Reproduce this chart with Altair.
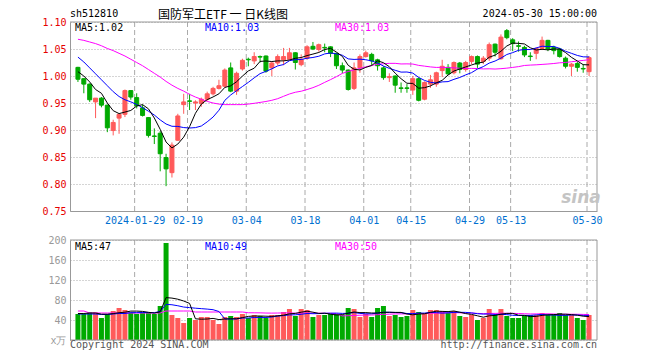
import altair as alt
import pandas as pd
import numpy as np

# ---------------- data ----------------
dates = ["2024-01-15","2024-01-16","2024-01-17","2024-01-18","2024-01-19","2024-01-22","2024-01-23","2024-01-24","2024-01-25","2024-01-26",
         "2024-01-29","2024-01-30","2024-01-31","2024-02-01","2024-02-02","2024-02-05","2024-02-06","2024-02-07","2024-02-08","2024-02-19",
         "2024-02-20","2024-02-21","2024-02-22","2024-02-23","2024-02-26","2024-02-27","2024-02-28","2024-02-29","2024-03-01","2024-03-04",
         "2024-03-05","2024-03-06","2024-03-07","2024-03-08","2024-03-11","2024-03-12","2024-03-13","2024-03-14","2024-03-15","2024-03-18",
         "2024-03-19","2024-03-20","2024-03-21","2024-03-22","2024-03-25","2024-03-26","2024-03-27","2024-03-28","2024-03-29","2024-04-01",
         "2024-04-02","2024-04-03","2024-04-08","2024-04-09","2024-04-10","2024-04-11","2024-04-12","2024-04-15","2024-04-16","2024-04-17",
         "2024-04-18","2024-04-19","2024-04-22","2024-04-23","2024-04-24","2024-04-25","2024-04-26","2024-04-29","2024-04-30","2024-05-06",
         "2024-05-07","2024-05-08","2024-05-09","2024-05-10","2024-05-13","2024-05-14","2024-05-15","2024-05-16","2024-05-17","2024-05-20",
         "2024-05-21","2024-05-22","2024-05-23","2024-05-24","2024-05-27","2024-05-28","2024-05-29","2024-05-30"]

opens = [1.016,0.995,0.985,0.952,0.959,0.946,0.899,0.922,0.929,0.973,
         0.960,0.941,0.923,0.889,0.894,0.849,0.821,0.881,0.947,0.954,
         0.950,0.949,0.957,0.967,0.977,0.981,1.015,0.972,1.013,1.031,
         1.028,1.036,1.037,1.015,1.024,1.030,1.031,1.043,1.021,1.033,
         1.055,1.049,1.053,1.054,1.042,1.019,1.011,0.977,1.015,1.036,
         1.040,1.030,1.015,0.997,1.000,0.978,0.978,0.974,0.995,0.957,
         0.985,0.985,1.010,1.016,1.006,1.024,1.012,1.027,1.036,1.027,
         1.033,1.059,1.032,1.084,1.067,1.056,1.053,1.037,1.042,1.051,
         1.066,1.053,1.050,1.033,1.018,1.023,1.014,1.008]
highs = [1.017,0.996,0.986,0.959,0.961,0.947,0.919,0.930,0.975,0.974,
         0.968,0.947,0.924,0.903,0.898,0.856,0.877,0.930,0.967,0.967,
         0.955,0.960,0.971,0.980,0.993,1.014,1.025,1.008,1.032,1.034,
         1.044,1.038,1.038,1.026,1.040,1.052,1.052,1.044,1.040,1.057,
         1.063,1.060,1.060,1.055,1.043,1.025,1.012,1.025,1.040,1.047,
         1.043,1.032,1.018,1.005,1.001,0.988,0.985,1.000,0.997,0.990,
         1.002,1.008,1.030,1.022,1.027,1.026,1.028,1.038,1.038,1.037,
         1.062,1.060,1.077,1.087,1.070,1.064,1.056,1.044,1.053,1.073,
         1.067,1.056,1.052,1.036,1.024,1.026,1.022,1.037]
lows = [0.989,0.968,0.952,0.922,0.942,0.896,0.890,0.893,0.924,0.956,
        0.940,0.925,0.886,0.874,0.8235,0.796,0.812,0.880,0.930,0.937,
        0.937,0.943,0.954,0.964,0.975,0.978,0.970,0.965,1.010,1.018,
        1.022,1.025,1.006,1.000,1.020,1.020,1.030,1.012,1.018,1.030,
        1.048,1.045,1.044,1.035,1.013,1.005,0.973,0.974,1.006,1.034,
        1.020,1.010,0.993,0.989,0.969,0.969,0.969,0.965,0.953,0.955,
        0.978,0.980,0.998,1.002,1.003,1.005,1.008,1.022,1.015,1.022,
        1.028,1.036,1.030,1.068,1.046,1.045,1.035,1.028,1.031,1.048,
        1.046,1.040,1.034,1.014,1.000,1.008,1.006,1.000]
closes = [0.994,0.985,0.956,0.959,0.946,0.904,0.914,0.929,0.973,0.961,
          0.945,0.927,0.890,0.888,0.856,0.828,0.872,0.926,0.952,0.953,
          0.952,0.957,0.967,0.977,0.982,1.011,0.972,1.005,1.029,1.030,
          1.036,1.035,1.009,1.024,1.036,1.036,1.043,1.025,1.031,1.054,
          1.050,1.058,1.052,1.042,1.019,1.011,0.975,1.015,1.036,1.043,
          1.028,1.019,0.997,0.999,0.983,0.977,0.977,0.995,0.955,0.988,
          0.993,1.006,1.018,1.004,1.025,1.012,1.025,1.036,1.022,1.033,
          1.058,1.044,1.072,1.071,1.060,1.055,1.039,1.036,1.051,1.066,
          1.050,1.047,1.036,1.018,1.022,1.016,1.013,1.034]
volumes = [52,52,55,55,44,52,58,64,60,55,
           52,55,55,52,68,194,50,44,34,44,
           40,46,46,40,32,46,48,46,52,44,
           50,48,44,50,50,56,62,48,62,60,
           46,50,50,52,52,50,64,62,46,52,
           46,64,68,48,50,46,48,60,56,52,
           60,60,58,54,58,48,46,50,40,44,
           62,50,62,48,44,44,48,50,50,54,
           50,50,54,50,50,44,40,50]

# moving-average values at the left edge (their windows start before the visible data)
ma5_head = [1.008, 1.000, 0.989, 0.975]
ma10_head = [1.035, 1.026, 1.015, 1.004, 0.993, 0.982, 0.971, 0.962, 0.956]
ma30_head = [1.068, 1.066, 1.063, 1.060, 1.056, 1.051, 1.047, 1.042, 1.037, 1.031,
             1.025, 1.019, 1.012, 1.005, 0.998, 0.990, 0.983, 0.977, 0.972, 0.966,
             0.961, 0.957, 0.953, 0.950, 0.948, 0.947, 0.947, 0.947, 0.947]
vma5_head = [53, 53, 54, 54]
vma10_head = [52, 52, 52, 52, 51, 51, 52, 53, 53]
vma30_head = [58, 58, 54, 54, 54, 54, 54, 54, 54, 54,
              54, 54, 54, 54, 54, 58, 58, 58, 58, 58,
              56, 56, 56, 56, 56, 56, 56, 56, 56]

tick_dates = ["2024-01-29", "2024-02-19", "2024-03-04", "2024-03-18", "2024-04-01",
              "2024-04-15", "2024-04-29", "2024-05-13", "2024-05-30"]
tick_labels = ["2024-01-29", "02-19", "03-04", "03-18", "04-01", "04-15", "04-29", "05-13", "05-30"]
price_ticks = [0.75, 0.80, 0.85, 0.90, 0.95, 1.00, 1.05, 1.10]
vol_ticks = [0, 40, 80, 120, 160, 200]

title_code = "sh512810"
title_main = "国防军工ETF 一 日K线图"
title_time = "2024-05-30 15:00:00"
price_ma_labels = ["MA5:1.02", "MA10:1.03", "MA30:1.03"]
vol_ma_labels = ["MA5:47", "MA10:49", "MA30:50"]
footer_left = "Copyright 2024 SINA.COM"
footer_right = "http://finance.sina.com.cn"

# ---------------- table ----------------
n = len(dates)
df = pd.DataFrame({"idx": list(range(n)), "date": dates, "open": opens, "high": highs,
                   "low": lows, "close": closes, "vol": volumes})
df["dir"] = np.where(df["close"] >= df["open"], "up", "down")


def with_head(series, window, head):
    m = series.rolling(window).mean()
    m.iloc[:len(head)] = head
    return m


df["ma5"] = with_head(df["close"], 5, ma5_head)
df["ma10"] = with_head(df["close"], 10, ma10_head)
df["ma30"] = with_head(df["close"], 30, ma30_head)
df["vma5"] = with_head(df["vol"].astype(float), 5, vma5_head)
df["vma10"] = with_head(df["vol"].astype(float), 10, vma10_head)
df["vma30"] = with_head(df["vol"].astype(float), 30, vma30_head)

tick_idx = [dates.index(d) for d in tick_dates]
tick_pos = [round(i - 0.35, 2) for i in tick_idx]
grid_df = pd.DataFrame({"idx": tick_pos})

# ---------------- layout ----------------
MONO = "DejaVu Sans Mono"
W, H = 527, 318
PH = 189          # bottom of the price panel
VT, VB = 218, 318  # top / bottom of the volume panel
RED, GREEN = "#ff5a5a", "#00aa00"
FRAME = "#999999"
GRID = "#aaaaaa"

label_expr = "[" + ",".join(f"'{t}'" for t in tick_labels) + "][indexof([" + \
    ",".join(str(i) for i in tick_idx) + "], round(datum.value + 0.35))]"

XS = alt.Scale(domain=[-0.5, n - 0.5], nice=False, zero=False)
XA = alt.Axis(values=tick_pos, labelExpr=label_expr, orient="bottom", offset=PH - H,
              grid=False, ticks=False, domainColor=FRAME, labelColor="#0070d0",
              labelFont=MONO, labelFontSize=10, labelPadding=4, labelFlush=False,
              labelOverlap=False, labelAngle=0)


def X():
    return alt.X("idx:Q", scale=XS, axis=XA, title=None)


PS = alt.Scale(domain=[0.75, 1.10], range=[PH, 0], nice=False, zero=False)
PA = alt.Axis(values=price_ticks, format=".2f", orient="left", grid=True, gridDash=[1, 2],
              gridColor=GRID, ticks=False, domainColor=FRAME, labelColor="#e60000",
              labelFont=MONO, labelFontSize=10, labelPadding=4, labelOverlap=False)


def PY(field):
    return alt.Y(f"{field}:Q", scale=PS, axis=PA, title=None)


VS = alt.Scale(domain=[0, 200], range=[VB, VT], nice=False)
VA = alt.Axis(values=vol_ticks, orient="left", grid=True, gridDash=[1, 2], gridColor=GRID,
              ticks=False, domainColor=FRAME, labelColor="#999999", labelFont=MONO,
              labelFontSize=10, labelPadding=4, labelOverlap=False,
              labelExpr="datum.value == 0 ? 'x万' : datum.label")


def VY(field):
    return alt.Y(f"{field}:Q", scale=VS, axis=VA, title=None)


CS = alt.Scale(domain=["up", "down"], range=[RED, GREEN])
color = alt.Color("dir:N", scale=CS, legend=None)
stroke = alt.Stroke("dir:N", scale=CS, legend=None)

base = alt.Chart(df)
one = pd.DataFrame({"a": [0]})


def frame(**enc):
    return alt.Chart(one).mark_rule(color=FRAME, strokeWidth=1).encode(**enc)


def label(text, x, y, col="black", size=10, align="left", font=MONO, **kw):
    return alt.Chart(pd.DataFrame({"t": [text]})).mark_text(
        align=align, baseline="alphabetic", font=font, fontSize=size, color=col, **kw
    ).encode(x=alt.value(x), y=alt.value(y), text="t:N")


price = alt.layer(
    alt.Chart(grid_df).mark_rule(color=GRID, strokeDash=[5, 3]).encode(
        x=X(), y=alt.value(0), y2=alt.value(PH)),
    base.mark_rule(strokeWidth=1).encode(x=X(), y=PY("low"), y2="high:Q", color=color),
    base.mark_bar(size=4, strokeWidth=1).encode(x=X(), y=PY("open"), y2="close:Q",
                                               color=color, stroke=stroke),
    base.mark_line(color="#ff00ff", strokeWidth=1).encode(x=X(), y=PY("ma30")),
    base.mark_line(color="#0000ff", strokeWidth=1).encode(x=X(), y=PY("ma10")),
    base.mark_line(color="black", strokeWidth=1).encode(x=X(), y=PY("ma5")),
)

volume = alt.layer(
    alt.Chart(grid_df).mark_rule(color=GRID, strokeDash=[5, 3]).encode(
        x=X(), y=alt.value(VT), y2=alt.value(VB)),
    base.mark_bar(size=5).encode(x=X(), y=VY("vol"), color=color),
    base.mark_line(color="#ff00ff", strokeWidth=1).encode(x=X(), y=VY("vma30")),
    base.mark_line(color="#0000ff", strokeWidth=1).encode(x=X(), y=VY("vma10")),
    base.mark_line(color="black", strokeWidth=1).encode(x=X(), y=VY("vma5")),
)

decor = [
    frame(x=alt.value(0), x2=alt.value(W), y=alt.value(0)),
    frame(x=alt.value(W), y=alt.value(0), y2=alt.value(PH)),
    frame(x=alt.value(0), x2=alt.value(W), y=alt.value(VT)),
    frame(x=alt.value(0), x2=alt.value(W), y=alt.value(VB)),
    frame(x=alt.value(W), y=alt.value(VT), y2=alt.value(VB)),
    label("sina", 511, 181, col="#c4c4c4", size=17, align="center", font="DejaVu Sans",
          fontStyle="italic", fontWeight="bold"),
    label(title_code, 0, -5),
    label(title_main, 153, -3.5, size=12, align="center", font="Noto Sans CJK SC"),
    label(title_time, W, -5, align="right"),
    label(price_ma_labels[0], 5, 8.5),
    label(price_ma_labels[1], 135, 8.5, col="#0000ff"),
    label(price_ma_labels[2], 265, 8.5, col="#ff00ff"),
    label(vol_ma_labels[0], 5, 228),
    label(vol_ma_labels[1], 135, 228, col="#0000ff"),
    label(vol_ma_labels[2], 265, 228, col="#ff00ff"),
    label(footer_left, 0, 326, col="#555555"),
    label(footer_right, W, 326, col="#555555", align="right"),
]

chart = alt.layer(price, volume, *decor).resolve_scale(y="independent").properties(
    width=W, height=H,
    autosize=alt.AutoSizeParams(type="none"),
    padding={"left": 62, "top": 14, "right": 50, "bottom": 12},
    background="white",
).configure_view(strokeWidth=0)

chart.save("out.html", embed_options={"renderer": "svg", "actions": False})
